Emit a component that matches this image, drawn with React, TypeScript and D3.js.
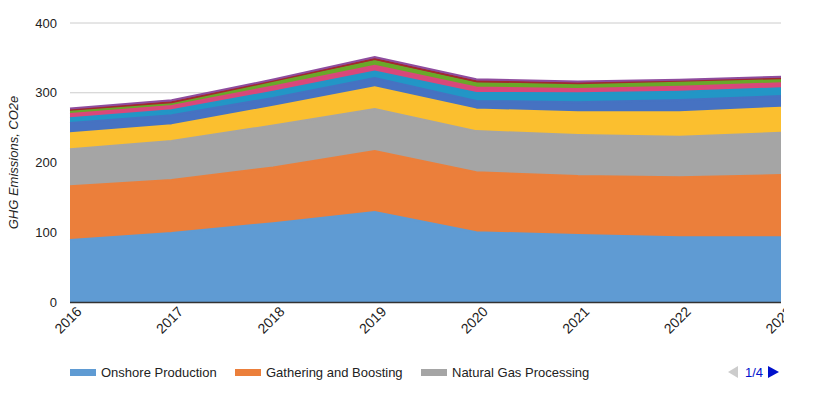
import React, { useEffect, useRef } from "react";
import * as d3 from "d3";

const YEARS = ["2016", "2017", "2018", "2019", "2020", "2021", "2022", "2023"];

const SERIES_NAMES = [
  "Onshore Production",
  "Gathering and Boosting",
  "Natural Gas Processing",
  "Natural Gas Transmission/Compression",
  "Natural Gas Distribution",
  "Underground Natural Gas Storage",
  "LNG Import/Export",
  "Offshore Production",
  "LNG Storage",
  "Transmission Pipelines",
];

const onshore = [89, 99, 113, 129, 100, 96, 93, 93];
const gathering = [77, 76, 80, 87.5, 86, 84.6, 86, 89];
const processing = [53, 56, 60, 60, 59, 58.8, 58, 60.7];
const transmission = [23, 22.5, 27, 31.5, 31, 32.6, 35, 35.9];
const distribution = [14.5, 14.3, 12.5, 13, 12.3, 14.3, 17.6, 16.7];
const storage = [7, 7.2, 9, 9.5, 11.5, 12.9, 11.9, 11.1];
const lngTerminals = [6, 6.1, 7.5, 8.2, 7.7, 6.2, 7.2, 7.2];
const offshore = [4, 3.5, 6, 7.1, 6.6, 7.1, 7.2, 5.7];
const lngStorage = [2, 1.8, 2, 2.5, 2.4, 1.2, 1.4, 1.6];
const pipelines = [2, 2.9, 2, 2.8, 2.9, 2.4, 1.4, 2.2];

const SERIES_VALUES = [
  onshore,
  gathering,
  processing,
  transmission,
  distribution,
  storage,
  lngTerminals,
  offshore,
  lngStorage,
  pipelines,
];

const COLORS = [
  "#5f9bd3",
  "#eb7f3b",
  "#a5a5a5",
  "#fbbf2f",
  "#4672c2",
  "#2296c6",
  "#d9487a",
  "#6aa829",
  "#a3282e",
  "#8e4c9e",
];

const Y_TICKS = [0, 100, 200, 300, 400];
const FONT = "Arial, 'Liberation Sans', sans-serif";

export default function App() {
  const svgRef = useRef<SVGSVGElement>(null);

  useEffect(() => {
    if (!svgRef.current) return;
    const svg = d3.select(svgRef.current);
    svg.selectAll("*").remove();

    const left = 70;
    const right = 781;
    const top = 23;
    const bottom = 302;

    const x = d3
      .scalePoint<string>()
      .domain(YEARS)
      .range([left, right]);
    const y = d3.scaleLinear().domain([0, 400]).range([bottom, top]);

    const rows = YEARS.map((yr, i) => {
      const row: Record<string, number | string> = { year: yr };
      SERIES_NAMES.forEach((n, s) => (row[n] = SERIES_VALUES[s][i]));
      return row;
    });

    const stacked = d3
      .stack<Record<string, number | string>>()
      .keys(SERIES_NAMES)
      .value((d, k) => d[k] as number)(rows);

    // gridlines
    svg
      .append("g")
      .selectAll("line")
      .data(Y_TICKS.filter((t) => t > 0))
      .enter()
      .append("line")
      .attr("x1", left)
      .attr("x2", right)
      .attr("y1", (d) => y(d))
      .attr("y2", (d) => y(d))
      .attr("stroke", "#cccccc")
      .attr("stroke-width", 1);

    const area = d3
      .area<d3.SeriesPoint<Record<string, number | string>>>()
      .x((d) => x(d.data.year as string)!)
      .y0((d) => y(d[0]))
      .y1((d) => y(d[1]));

    const line = d3
      .line<d3.SeriesPoint<Record<string, number | string>>>()
      .x((d) => x(d.data.year as string)!)
      .y((d) => y(d[1]));

    svg
      .append("g")
      .selectAll("path")
      .data(stacked)
      .enter()
      .append("path")
      .attr("d", (d) => area(d) as string)
      .attr("fill", (_, i) => COLORS[i]);

    svg
      .append("g")
      .selectAll("path")
      .data(stacked)
      .enter()
      .append("path")
      .attr("d", (d) => line(d) as string)
      .attr("fill", "none")
      .attr("stroke", (_, i) => COLORS[i])
      .attr("stroke-width", 2);

    // baseline
    svg
      .append("line")
      .attr("x1", left)
      .attr("x2", right)
      .attr("y1", bottom + 0.5)
      .attr("y2", bottom + 0.5)
      .attr("stroke", "#333333")
      .attr("stroke-width", 1.5);

    // y tick labels
    svg
      .append("g")
      .selectAll("text")
      .data(Y_TICKS)
      .enter()
      .append("text")
      .attr("x", 57)
      .attr("y", (d) => y(d) + 4.5)
      .attr("text-anchor", "end")
      .attr("font-family", FONT)
      .attr("font-size", 13)
      .attr("fill", "#222")
      .text((d) => d);

    // y title
    svg
      .append("text")
      .attr("transform", `translate(18,${(top + bottom) / 2}) rotate(-90)`)
      .attr("text-anchor", "middle")
      .attr("font-family", FONT)
      .attr("font-size", 13)
      .attr("font-style", "italic")
      .attr("fill", "#222")
      .text("GHG Emissions, CO2e");

    // x labels (clipped at the right edge like the original)
    svg
      .append("clipPath")
      .attr("id", "xclip")
      .append("rect")
      .attr("x", 0)
      .attr("y", 0)
      .attr("width", 784)
      .attr("height", 396);

    svg
      .append("g")
      .attr("clip-path", "url(#xclip)")
      .selectAll("text")
      .data(YEARS)
      .enter()
      .append("text")
      .attr(
        "transform",
        (d) => `translate(${x(d)! + 5},${bottom + 3}) rotate(-45)`
      )
      .attr("text-anchor", "end")
      .attr("dy", "0.75em")
      .attr("font-family", FONT)
      .attr("font-size", 14)
      .attr("fill", "#222")
      .text((d) => d);

    // legend (first page)
    const legendItems = [
      { name: SERIES_NAMES[0], color: COLORS[0], x: 70 },
      { name: SERIES_NAMES[1], color: COLORS[1], x: 235 },
      { name: SERIES_NAMES[2], color: COLORS[2], x: 421 },
    ];
    const legend = svg.append("g");
    legendItems.forEach((it) => {
      legend
        .append("rect")
        .attr("x", it.x)
        .attr("y", 369)
        .attr("width", 26)
        .attr("height", 7)
        .attr("fill", it.color);
      legend
        .append("text")
        .attr("x", it.x + 31)
        .attr("y", 377)
        .attr("font-family", FONT)
        .attr("font-size", 13)
        .attr("fill", "#222")
        .text(it.name);
    });

    // pager
    legend
      .append("path")
      .attr("d", "M738,366 L738,378 L728,372 Z")
      .attr("fill", "#cccccc");
    legend
      .append("text")
      .attr("x", 754)
      .attr("y", 377)
      .attr("text-anchor", "middle")
      .attr("font-family", FONT)
      .attr("font-size", 13)
      .attr("fill", "#0011cc")
      .text("1/4");
    legend
      .append("path")
      .attr("d", "M768,366 L768,378 L779,372 Z")
      .attr("fill", "#0011cc");
  }, []);

  return (
    <div style={{ margin: -8 }}>
      <svg ref={svgRef} width={819} height={396} style={{ display: "block" }} />
    </div>
  );
}
